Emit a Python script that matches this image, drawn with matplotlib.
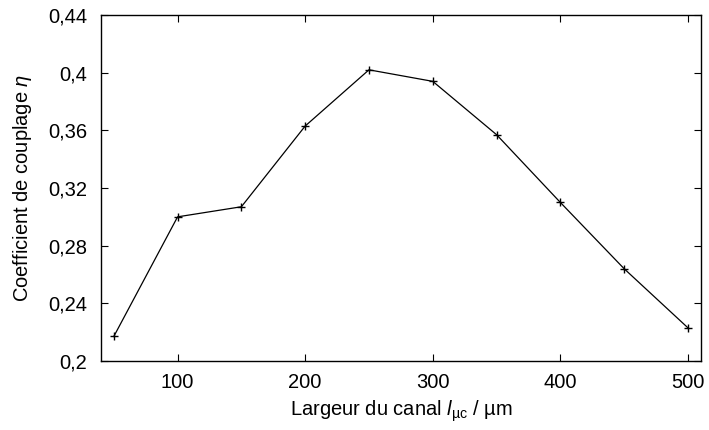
import matplotlib
matplotlib.use("Agg")
import matplotlib.pyplot as plt
from matplotlib.ticker import FuncFormatter

plt.rcParams["font.family"] = ["Liberation Sans", "DejaVu Sans"]
plt.rcParams["mathtext.fontset"] = "custom"
plt.rcParams["mathtext.rm"] = "Liberation Sans"
plt.rcParams["mathtext.it"] = "Liberation Sans:italic"

# channel width (um) and coupling coefficient
largeur = [50, 100, 150, 200, 250, 300, 350, 400, 450, 500]
eta = [0.217, 0.300, 0.307, 0.363, 0.402, 0.394, 0.357, 0.310, 0.264, 0.223]

x_ticks = [100, 200, 300, 400, 500]
y_ticks = [0.20, 0.24, 0.28, 0.32, 0.36, 0.40, 0.44]

fig = plt.figure(figsize=(7.09, 4.30), dpi=100)
ax = fig.add_axes([0.1425, 0.1605, 0.9883 - 0.1425, 0.965 - 0.1605])

ax.plot(largeur, eta, "-", color="black", lw=0.9, marker="+", ms=6, mew=1.0)

ax.set_xlim(40, 510)
ax.set_ylim(0.2, 0.44)
ax.set_xticks(x_ticks)
ax.set_yticks(y_ticks)


def virgule(v, pos):
    s = f"{v:.2f}".rstrip("0").rstrip(".")
    return s.replace(".", ",")


ax.yaxis.set_major_formatter(FuncFormatter(virgule))
ax.tick_params(direction="in", top=True, right=True, length=5, width=0.8,
               labelsize=14.5)
ax.tick_params(axis="x", pad=9)
ax.tick_params(axis="y", pad=10)
for sp in ax.spines.values():
    sp.set_linewidth(1.0)

ax.set_xlabel(r"Largeur du canal $l_{\mathrm{µc}}$ / µm", fontsize=14.5, labelpad=4)
ax.set_ylabel(r"Coefficient de couplage $\eta$", fontsize=14.5, labelpad=10)

fig.savefig("out.png", dpi=100)
